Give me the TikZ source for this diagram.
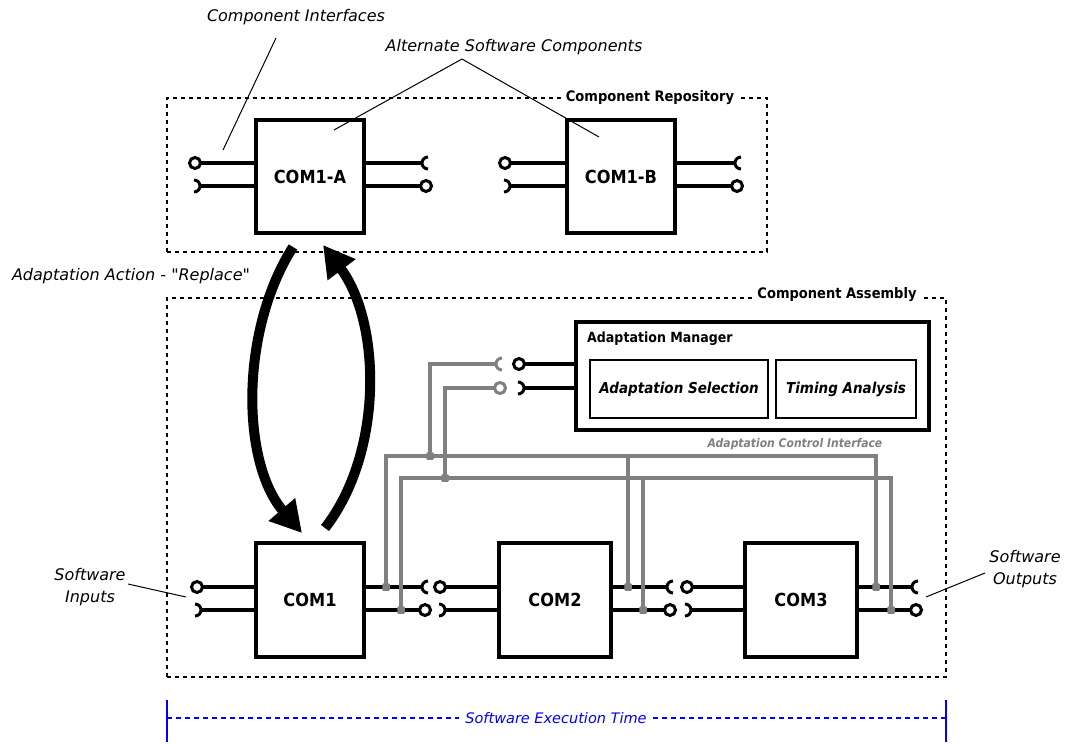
\documentclass[tikz,border=0pt]{standalone}
\usepackage{fontspec}
\setmainfont{DejaVu Sans}[Ligatures=TeXOff]
\newfontfamily\boxfont[FakeStretch=0.9]{DejaVu Sans}
\usetikzlibrary{arrows.meta,calc}
\definecolor{busgray}{RGB}{128,128,128}
\definecolor{timeblue}{RGB}{0,0,255}

\begin{document}
\begin{tikzpicture}[x=1pt,y=-1pt,
  comp/.style={draw, line width=3.2pt, inner sep=0pt, fill=white,
               font=\boxfont\bfseries\fontsize{18}{20}\selectfont},
  inner/.style={draw, line width=1.6pt, inner sep=0pt,
               font=\boxfont\bfseries\itshape\fontsize{15}{18}\selectfont},
  dashbox/.style={draw, line width=2pt, dash pattern=on 4pt off 4pt, inner sep=0pt},
  boxtitle/.style={fill=white, inner sep=4pt,
               font=\boxfont\bfseries\fontsize{14.5}{17}\selectfont},
  lbl/.style={inner sep=1pt, align=center, font=\fontsize{16}{22}\selectfont\itshape},
  leader/.style={line width=1pt},
  wire/.style={line width=3.4pt},
  gwire/.style={line width=3.4pt, busgray},
  ball/.style={circle, draw, line width=3pt, fill=white, minimum size=11pt, inner sep=0pt},
  gball/.style={ball, draw=busgray},
  jdot/.style={fill=busgray, rounded corners=1pt, minimum size=7.5pt, inner sep=0pt},
  pics/sockr/.style={code={\draw[line width=3pt] (6pt,6pt) arc[start angle=90,end angle=270,radius=6pt];}},
  pics/sockl/.style={code={\draw[line width=3pt] (-6pt,6pt) arc[start angle=90,end angle=-90,radius=6pt];}},
  bigarrow/.style={line width=10pt, -{Triangle[length=31pt,width=33pt]}}
]
\useasboundingbox (0,0) rectangle (1069,744);

% ---------- containers ----------
\node[dashbox, minimum width=600pt, minimum height=154pt] (repo) at (467,175) {};
\node[boxtitle] (repoT) at (650,98) {Component Repository};
\node[dashbox, minimum width=779pt, minimum height=379pt] (asm) at (556.5,487.5) {};
\node[boxtitle] (asmT) at (837,295) {Component Assembly};

% ---------- repository components ----------
\node[comp, minimum width=108pt, minimum height=113pt] (c1a) at (310,176.5) {COM1-A};
\node[comp, minimum width=108pt, minimum height=113pt] (c1b) at (621,176.5) {COM1-B};

% ---------- assembly components ----------
\node[comp, minimum width=108pt, minimum height=114pt] (c1) at (310,600) {COM1};
\node[comp, minimum width=112pt, minimum height=114pt] (c2) at (555,600) {COM2};
\node[comp, minimum width=112pt, minimum height=114pt] (c3) at (801,600) {COM3};

% ---------- adaptation manager ----------
\node[comp, minimum width=353pt, minimum height=108pt] (am) at (752.5,376) {};
\node[anchor=west, inner sep=0pt, font=\boxfont\bfseries\fontsize{14}{17}\selectfont] (amT) at (587,339) {Adaptation Manager};
\node[inner, minimum width=178pt, minimum height=58pt] (sel) at (679,389) {Adaptation Selection};
\node[inner, minimum width=140pt, minimum height=58pt] (tim) at (846,389) {Timing Analysis};

% ---------- interface end points ----------
% COM1-A
\coordinate (aLu) at (195,163);  \coordinate (aLl) at (200,186);
\coordinate (aRu) at (422,163);  \coordinate (aRl) at (426,186);
% COM1-B
\coordinate (bLu) at (505,163);  \coordinate (bLl) at (510,186);
\coordinate (bRu) at (735,163);  \coordinate (bRl) at (737,186);
% COM1
\coordinate (p1Lu) at (197,587); \coordinate (p1Ll) at (201,610);
\coordinate (p1Ru) at (422,587); \coordinate (p1Rl) at (425,610);
% COM2
\coordinate (p2Lu) at (440,587); \coordinate (p2Ll) at (445,610);
\coordinate (p2Ru) at (667,587); \coordinate (p2Rl) at (670,610);
% COM3
\coordinate (p3Lu) at (687,587); \coordinate (p3Ll) at (691,610);
\coordinate (p3Ru) at (912,587); \coordinate (p3Rl) at (916,610);
% adaptation manager
\coordinate (mU) at (519,364);   \coordinate (mL) at (524,388);
\coordinate (gU) at (496,364);   \coordinate (gL) at (500,388);

% ---------- black interface wires ----------
\foreach \b/\u/\l/\s in {c1a/aLu/aLl/west, c1b/bLu/bLl/west, c1/p1Lu/p1Ll/west,
                         c2/p2Lu/p2Ll/west, c3/p3Lu/p3Ll/west}{
  \draw[wire] (\b.\s |- \u) -- (\u);
  \draw[wire] (\b.\s |- \l) -- (\l);
  \node[ball] at (\u) {};
  \pic at (\l) {sockl};
}
\foreach \b/\u/\l/\s in {c1a/aRu/aRl/east, c1b/bRu/bRl/east, c1/p1Ru/p1Rl/east,
                         c2/p2Ru/p2Rl/east, c3/p3Ru/p3Rl/east}{
  \draw[wire] (\b.\s |- \u) -- (\u);
  \draw[wire] (\b.\s |- \l) -- (\l);
  \pic at (\u) {sockr};
  \node[ball] at (\l) {};
}
\draw[wire] (am.west |- mU) -- (mU);
\draw[wire] (am.west |- mL) -- (mL);
\node[ball] at (mU) {};
\pic at (mL) {sockl};

% ---------- adaptation control interface (gray bus) ----------
\coordinate (j1) at (430,456);
\coordinate (j2) at (445,478);
\coordinate (d1a) at (386,587); \coordinate (d1b) at (401,610);
\coordinate (d2a) at (628,587); \coordinate (d2b) at (643,610);
\coordinate (d3a) at (876,587); \coordinate (d3b) at (891,610);

\draw[gwire] (gU) -- (gU -| j1) -- (j1);
\draw[gwire] (gL) -- (gL -| j2) -- (j2);
\draw[gwire] (d1a) -- (d1a |- j1) -- (d3a |- j1) -- (d3a);
\draw[gwire] (d2a |- j1) -- (d2a);
\draw[gwire] (d1b) -- (d1b |- j2) -- (d3b |- j2) -- (d3b);
\draw[gwire] (d2b |- j2) -- (d2b);
\pic[color=busgray] at (gU) {sockr};
\node[gball] at (gL) {};
\foreach \p in {j1,j2,d1a,d1b,d2a,d2b,d3a,d3b}{\node[jdot] at (\p) {};}
\node[inner sep=0pt, text=busgray, font=\boxfont\bfseries\itshape\fontsize{12}{14}\selectfont]
  (aci) at (795,444) {Adaptation Control Interface};

% ---------- replacement arrows ----------
\coordinate (outTop) at (293,247);
\coordinate (inBot)  at (302,533);
\coordinate (outBot) at (325,528);
\coordinate (inTop)  at (323,245);
\draw[bigarrow] (outTop) .. controls (240,330) and (241,462) .. (inBot);
\draw[bigarrow] (outBot) .. controls (384,452) and (381,322) .. (inTop);
\node[lbl] (act) at (131,276) {Adaptation Action - "Replace"};

% ---------- annotations ----------
\node[lbl] (ci) at (296,17) {Component Interfaces};
\coordinate (ciFrom) at (276,38);
\coordinate (ciTo) at (223,150);
\draw[leader] (ciFrom) -- (ciTo);

\node[lbl] (alt) at (514,47) {Alternate Software Components};
\coordinate (altFrom) at (462,59);
\coordinate (altA) at (334,130);
\coordinate (altB) at (599,137);
\draw[leader] (altFrom) -- (altA);
\draw[leader] (altFrom) -- (altB);

\node[lbl] (sin) at (90,587) {Software\\Inputs};
\coordinate (sinFrom) at (128,584);
\coordinate (sinTo) at (186,597);
\draw[leader] (sinFrom) -- (sinTo);

\node[lbl] (sout) at (1025,569) {Software\\Outputs};
\coordinate (soutFrom) at (985,573);
\coordinate (soutTo) at (926,597);
\draw[leader] (soutFrom) -- (soutTo);

% ---------- execution time bar ----------
\coordinate (tL) at (167,718);
\coordinate (tR) at (946,718);
\draw[timeblue, line width=2.5pt] ($(tL)+(0,-18)$) -- ($(tL)+(0,24)$);
\draw[timeblue, line width=2.5pt] ($(tR)+(0,-18)$) -- ($(tR)+(0,24)$);
\draw[timeblue, line width=1.5pt, dash pattern=on 5pt off 4pt] (tL) -- (tR);
\node[fill=white, inner sep=6pt, text=timeblue, font=\fontsize{14.5}{17}\selectfont\itshape]
  (tlabel) at (556,718) {Software Execution Time};
\end{tikzpicture}
\end{document}
